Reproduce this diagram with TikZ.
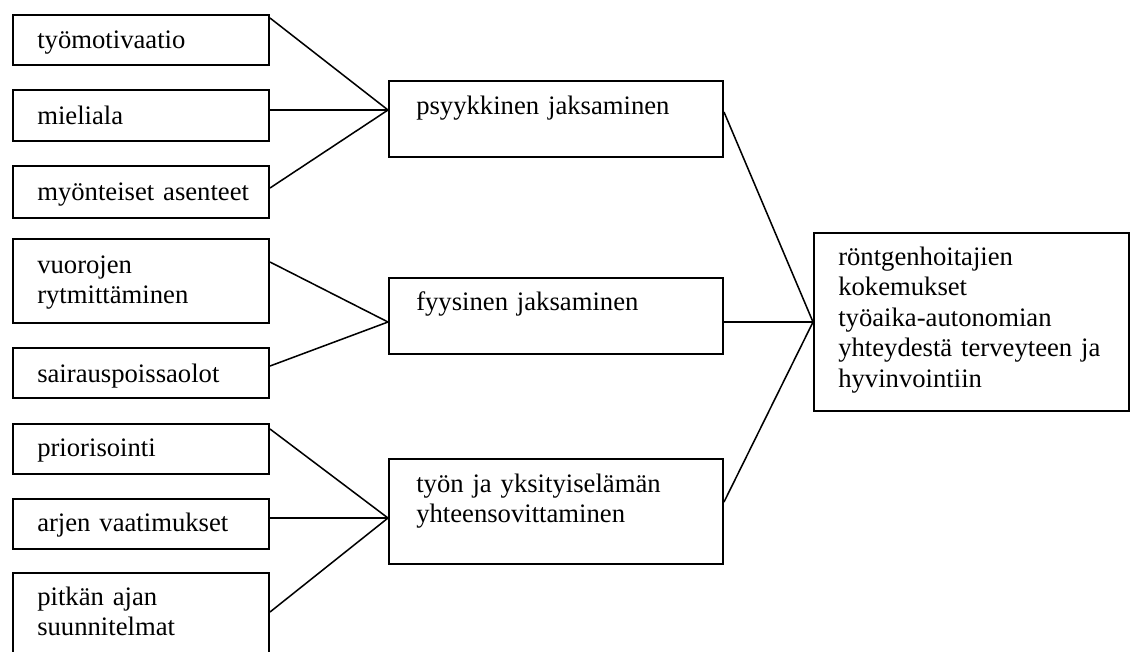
\documentclass[tikz,border=0pt]{standalone}
\usepackage{fontspec}
\setmainfont{Liberation Serif}
\usetikzlibrary{calc}
\tikzset{
  box/.style={draw=black, line width=1.5pt, rectangle, anchor=north west, inner sep=0pt, fill=white},
  txt/.style={anchor=base west, inner sep=0pt, align=left, text width=260pt, font=\fontsize{20}{22.9}\selectfont},
  conn/.style={draw=black, line width=1.15pt}
}
\begin{document}
\begin{tikzpicture}[x=0.75pt,y=-0.75pt]
\useasboundingbox (0,0) rectangle (1130,651);
\clip (0,0) rectangle (1130,651);
% left boxes
\node[box, minimum width=192pt, minimum height=37.5pt] (b1) at (12,14) {};
\node[box, minimum width=192pt, minimum height=38.25pt] (b2) at (12,89) {};
\node[box, minimum width=192pt, minimum height=39pt] (b3) at (12,165) {};
\node[box, minimum width=192pt, minimum height=63pt] (b4) at (12,238) {};
\node[box, minimum width=192pt, minimum height=37.5pt] (b5) at (12,347) {};
\node[box, minimum width=192pt, minimum height=37.5pt] (b6) at (12,423) {};
\node[box, minimum width=192pt, minimum height=37.5pt] (b7) at (12,498) {};
\node[box, minimum width=192pt, minimum height=75pt] (b8) at (12,572) {};
% middle boxes
\node[box, minimum width=250.5pt, minimum height=57pt] (m1) at (388,80) {};
\node[box, minimum width=250.5pt, minimum height=57pt] (m2) at (388,277) {};
\node[box, minimum width=250.5pt, minimum height=78.75pt] (m3) at (388,458) {};
% final box
\node[box, minimum width=236.25pt, minimum height=133.5pt] (f) at (813,232) {};
% texts
\node[txt] (t1) at ($(b1.north west)+(25,34)$) {työmotivaatio};
\node[txt] (t2) at ($(b2.north west)+(25,35)$) {mieliala};
\node[txt] (t3) at ($(b3.north west)+(25,35)$) {myönteiset asenteet};
\node[txt] (t4) at ($(b4.north west)+(25,35)$) {vuorojen\\rytmittäminen};
\node[txt] (t5) at ($(b5.north west)+(25,35)$) {sairauspoissaolot};
\node[txt] (t6) at ($(b6.north west)+(25,33)$) {priorisointi};
\node[txt] (t7) at ($(b7.north west)+(25,33)$) {arjen vaatimukset};
\node[txt] (t8) at ($(b8.north west)+(25,33)$) {pitkän ajan\\suunnitelmat};
\node[txt] (u1) at ($(m1.north west)+(28,34)$) {psyykkinen jaksaminen};
\node[txt] (u2) at ($(m2.north west)+(28,33)$) {fyysinen jaksaminen};
\node[txt] (u3) at ($(m3.north west)+(28,34)$) {työn ja yksityiselämän\\yhteensovittaminen};
\node[txt] (v1) at ($(f.north west)+(25,33)$) {röntgenhoitajien\\kokemukset\\työaika-autonomian\\yhteydestä terveyteen ja\\hyvinvointiin};
% connectors
\draw[conn] ($(b1.north east)+(0,4)$) -- ($(m1.north west)+(0,30)$);
\draw[conn] ($(b2.north east)+(0,21)$) -- ($(m1.north west)+(0,30)$);
\draw[conn] ($(b3.north east)+(0,23)$) -- ($(m1.north west)+(0,30)$);
\draw[conn] ($(b4.north east)+(0,24)$) -- ($(m2.north west)+(0,45)$);
\draw[conn] ($(b5.north east)+(0,19)$) -- ($(m2.north west)+(0,45)$);
\draw[conn] ($(b6.north east)+(0,6)$) -- ($(m3.north west)+(0,60)$);
\draw[conn] ($(b7.north east)+(0,20)$) -- ($(m3.north west)+(0,60)$);
\draw[conn] ($(b8.north east)+(0,40)$) -- ($(m3.north west)+(0,60)$);
\draw[conn] ($(m1.north east)+(0,32)$) -- ($(f.north west)+(0,90)$);
\draw[conn] ($(m2.north east)+(0,45)$) -- ($(f.north west)+(0,90)$);
\draw[conn] ($(m3.north east)+(0,44)$) -- ($(f.north west)+(0,90)$);
\end{tikzpicture}
\end{document}
